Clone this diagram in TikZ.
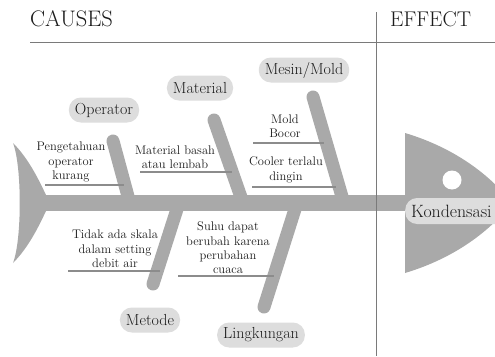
\documentclass[tikz,border=0pt]{standalone}
\usepackage{fontspec}
\definecolor{fishgray}{HTML}{A9A9A9}
\definecolor{boxgray}{HTML}{DDDDDD}
\definecolor{txtgray}{HTML}{1C1C1C}
\definecolor{linegray}{HTML}{8C8C8C}
\definecolor{divgray}{HTML}{7A7A7A}
\tikzset{
  bone/.style={draw=fishgray, line width=13pt, line cap=round},
  spine/.style={draw=fishgray, line width=16pt},
  catbox/.style={fill=boxgray, rounded corners=12pt, minimum height=25pt, inner xsep=6pt,
    text=txtgray, font=\fontsize{16}{18}\selectfont},
  subtxt/.style={align=center, text=txtgray, font=\fontsize{12.5}{14.3}\selectfont, inner sep=0pt},
  uline/.style={draw=linegray, line width=1.6pt},
  heading/.style={text=txtgray, inner sep=0pt, anchor=base west},
  divider/.style={draw=divgray, line width=0.9pt}
}
\begin{document}
\begin{tikzpicture}[x=1pt,y=-1pt]
\useasboundingbox (0,0) rectangle (495,356);
\clip (0,0) rectangle (495,356);
\fill[white] (0,0) rectangle (495,356);
% headings
\node[heading, font=\fontsize{22.5}{26}\selectfont] (causes) at (30,27) {CAUSES};
\node[heading, font=\fontsize{21.3}{25}\selectfont] (effect) at (390,27) {EFFECT};
% tail
\fill[fishgray] (13,143) .. controls (28,158) and (38,178) .. (46,195) -- (46,211)
  .. controls (38,228) and (28,248) .. (13,263)
  .. controls (22,240) and (22,166) .. cycle;
% head
\fill[fishgray] (405,133) .. controls (455,148) and (490,175) .. (512,203)
  .. controls (490,231) and (455,258) .. (405,273) -- cycle;
\fill[white] (452,180) circle (9.5pt);
% spine
\coordinate (tail) at (40,203);
\coordinate (headc) at (406,203);
\draw[spine] (tail) -- (headc);
% bones
\coordinate (opS) at (129,200); \coordinate (opE) at (113,141);
\coordinate (maS) at (242,200); \coordinate (maE) at (214,120);
\coordinate (meS) at (343,200); \coordinate (meE) at (313,97);
\coordinate (mtS) at (178,206); \coordinate (mtE) at (153,284);
\coordinate (liS) at (296,206); \coordinate (liE) at (264,307);
\draw[bone] (opS) -- (opE);
\draw[bone] (maS) -- (maE);
\draw[bone] (meS) -- (meE);
\draw[bone] (mtS) -- (mtE);
\draw[bone] (liS) -- (liE);
% dividers
\coordinate (hl1) at (30,42); \coordinate (hl2) at (495,42);
\coordinate (vl1) at (376,12); \coordinate (vl2) at (376,356);
\draw[divider] (hl1) -- (hl2);
\draw[divider] (vl1) -- (vl2);
% category labels
\node[catbox] (operator) at (104,110) {Operator};
\node[catbox] (material) at (200,88) {Material};
\node[catbox] (mesin) at (304,70) {Mesin/Mold};
\node[catbox] (metode) at (150,320) {Metode};
\node[catbox] (lingkungan) at (261,335) {Lingkungan};
\node[catbox, anchor=west, inner xsep=6pt, minimum height=26pt, font=\fontsize{17.8}{20}\selectfont, text width=100pt] (kondensasi) at (405,211) {Kondensasi};
% sub causes
\node[subtxt] (peng) at (71,162) {Pengetahuan\\operator\\kurang};
\coordinate (u1a) at (45,185); \coordinate (u1b) at (124,185);
\draw[uline] (u1a) -- (u1b);
\node[subtxt] (basah) at (175,157) {Material basah\\atau lembab};
\coordinate (u2a) at (140,172); \coordinate (u2b) at (232,172);
\draw[uline] (u2a) -- (u2b);
\node[subtxt] (bocor) at (285,126) {Mold\\Bocor};
\coordinate (u3a) at (253,143); \coordinate (u3b) at (324,143);
\draw[uline] (u3a) -- (u3b);
\node[subtxt] (cooler) at (286,170) {Cooler terlalu\\dingin};
\coordinate (u4a) at (252,187); \coordinate (u4b) at (336,187);
\draw[uline] (u4a) -- (u4b);
\node[subtxt] (skala) at (115,249) {Tidak ada skala\\dalam setting\\debit air};
\coordinate (u5a) at (68,271); \coordinate (u5b) at (160,271);
\draw[uline] (u5a) -- (u5b);
\node[subtxt] (suhu) at (228,248) {Suhu dapat\\berubah karena\\perubahan\\cuaca};
\coordinate (u6a) at (178,276); \coordinate (u6b) at (274,276);
\draw[uline] (u6a) -- (u6b);
\end{tikzpicture}
\end{document}
